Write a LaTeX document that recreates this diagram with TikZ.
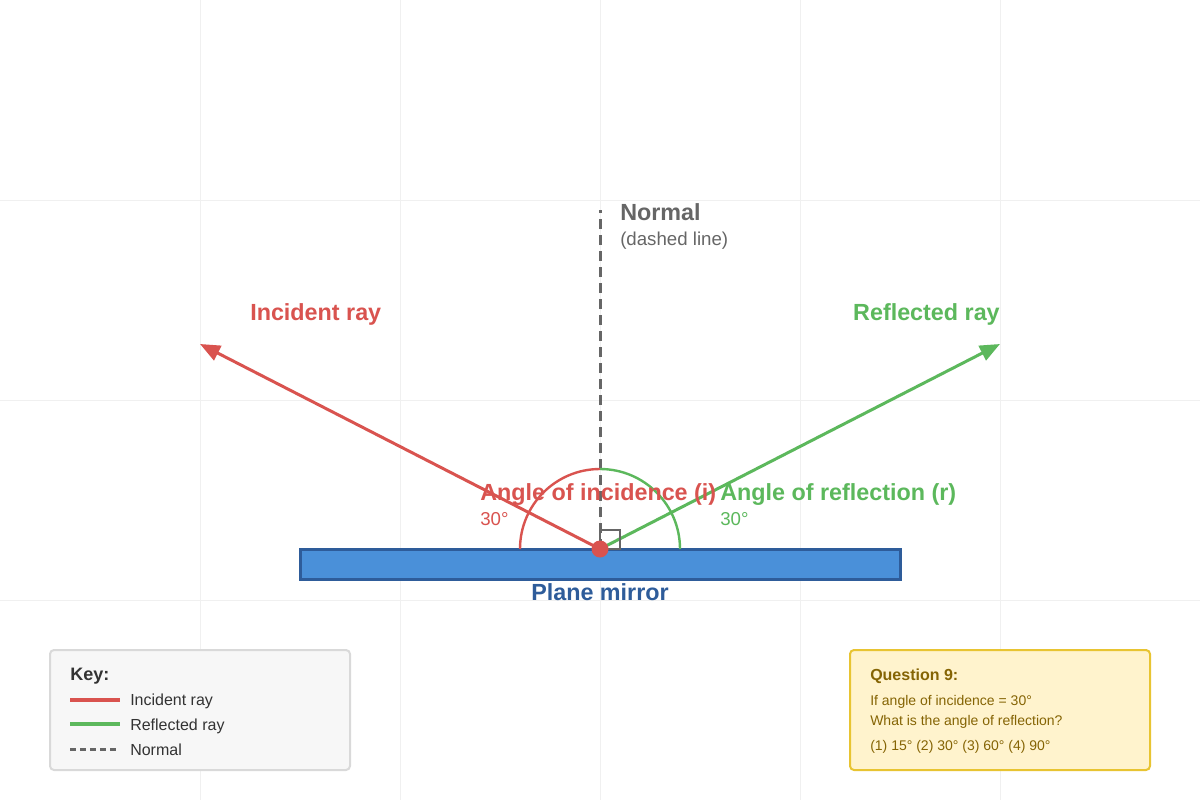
\documentclass[tikz,border=0pt]{standalone}
\usepackage{fontspec}
\setmainfont{Liberation Sans}
\usetikzlibrary{arrows.meta}
\definecolor{rd}{HTML}{D9534F}
\definecolor{grn}{HTML}{5CB85C}
\definecolor{gry}{HTML}{666666}
\definecolor{mir}{HTML}{4A90D9}
\definecolor{mirb}{HTML}{2E5C9A}
\definecolor{qtx}{HTML}{856404}
\definecolor{qbg}{HTML}{FFF3CD}
\definecolor{qbd}{HTML}{E8C432}
\begin{document}
\begin{tikzpicture}[x=0.75pt,y=-0.75pt,
  lbl/.style={inner sep=0pt,font=\fontsize{17.5}{19}\selectfont\bfseries},
  sml/.style={inner sep=0pt,font=\fontsize{14}{16}\selectfont},
  leg/.style={inner sep=0pt,anchor=base west,font=\fontsize{12}{14}\selectfont,text=black!80},
  qt/.style={inner sep=0pt,anchor=base west,font=\fontsize{10.5}{12}\selectfont,text=qtx},
  ray/.style={line width=2.25pt,-{Triangle[length=15pt,width=12pt]}}]
\useasboundingbox (0,0) rectangle (1200,800);
\fill[white] (0,0) rectangle (1200,800);
\foreach \x in {200,400,600,800,1000} \draw[black!6,line width=0.75pt] (\x,0) -- (\x,800);
\foreach \y in {200,400,600} \draw[black!6,line width=0.75pt] (0,\y) -- (1200,\y);
% mirror
\node[draw=mirb,fill=mir,line width=2.25pt,minimum width=450pt,minimum height=23pt,inner sep=0pt] (mirror) at (600,564.5) {};
\coordinate (P) at (600,549);
\coordinate (N) at (600,210);
\coordinate (I) at (200,344);
\coordinate (R) at (1000,344);
\draw[gry,line width=2.25pt,dash pattern=on 7.5pt off 4.5pt] (P) -- (N);
\draw[rd,line width=1.8pt] (520,549) arc[start angle=180,end angle=270,radius=80];
\draw[grn,line width=1.8pt] (600,469) arc[start angle=270,end angle=360,radius=80];
\draw[ray,rd] (P) -- (I);
\draw[ray,grn] (P) -- (R);
\draw[gry,line width=1.2pt] (600,530) rectangle (620,549);
\fill[rd] (P) circle[radius=8.5];
\node[lbl,text=rd,anchor=base west] (il) at (250,320) {Incident ray};
\node[lbl,text=grn,anchor=base east] (rl) at (1000,320) {Reflected ray};
\node[lbl,text=gry,anchor=base west] (nl) at (620,220) {Normal};
\node[sml,text=gry,anchor=base west] (nd) at (620,245) {(dashed line)};
\node[lbl,text=rd,anchor=base west] (ai) at (480,500) {Angle of incidence (i)};
\node[sml,text=rd,anchor=base west] (ai2) at (480,525) {30°};
\node[lbl,text=grn,anchor=base west] (ar) at (720,500) {Angle of reflection (r)};
\node[sml,text=grn,anchor=base west] (ar2) at (720,525) {30°};
\node[lbl,text=mirb,anchor=base] (ml) at (600,600) {Plane mirror};
% key
\draw[black!15,fill=black!3,line width=1.5pt,rounded corners=3pt] (50,650) rectangle (350,770);
\node[inner sep=0pt,anchor=base west,font=\fontsize{13.5}{15}\selectfont\bfseries,text=black!80] (k) at (70,680) {Key:};
\draw[rd,line width=3pt] (70,700) -- (120,700);
\draw[grn,line width=3pt] (70,724) -- (120,724);
\draw[gry,line width=2.25pt,dash pattern=on 4.5pt off 3pt] (70,749) -- (120,749);
\node[leg] (k1) at (130,705) {Incident ray};
\node[leg] (k2) at (130,730) {Reflected ray};
\node[leg] (k3) at (130,755) {Normal};
% question
\draw[fill=qbg,draw=qbd,line width=1.5pt,rounded corners=3pt] (850,650) rectangle (1150,770);
\node[qt,font=\fontsize{12}{14}\selectfont\bfseries] (q0) at (870,680) {Question 9:};
\node[qt] (q1) at (870,705) {If angle of incidence = 30°};
\node[qt] (q2) at (870,725) {What is the angle of reflection?};
\node[qt] (q3) at (870,750) {(1) 15° (2) 30° (3) 60° (4) 90°};
\end{tikzpicture}
\end{document}
